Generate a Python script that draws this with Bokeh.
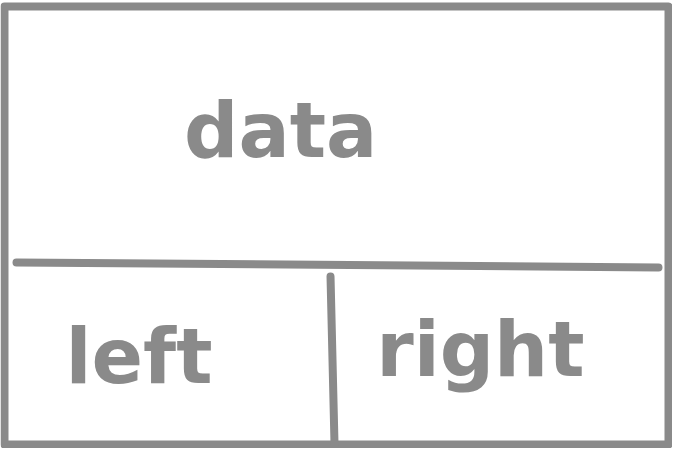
from bokeh.plotting import figure
from bokeh.models import Range1d, ColumnDataSource
from bokeh.core.properties import value
from bokeh.embed import file_html
from bokeh.resources import INLINE

# the sketch: one "data" block on top, split into "left" and "right" below
labels = ["data", "left", "right"]
rows = [0, 1, 1]
cols = [0, 0, 1]
spans = [2, 1, 1]

# layout (pixels of the figure, y grows downwards)
W, H = 672, 448
frame_l, frame_r, frame_t, frame_b = 4, 668, 6, 444
row_split = 0.589
col_split = 0.494
label_fx = [0.416, 0.41, 0.44]   # where each word sits inside its cell
label_fy = [0.48, 0.51, 0.47]
ink = "#8a8a8a"

xe = [frame_l, frame_l + col_split * (frame_r - frame_l), frame_r]
ye = [frame_t, frame_t + row_split * (frame_b - frame_t), frame_b]

cell_l = [xe[c] for c in cols]
cell_r = [xe[c + s] for c, s in zip(cols, spans)]
cell_t = [ye[r] for r in rows]
cell_b = [ye[r + 1] for r in rows]

src = ColumnDataSource(dict(
    label=labels,
    x=[l + fx * (r - l) for l, r, fx in zip(cell_l, cell_r, label_fx)],
    y=[t + fy * (b - t) for t, b, fy in zip(cell_t, cell_b, label_fy)],
))

p = figure(width=W, height=H, x_range=Range1d(0, W), y_range=Range1d(H, 0),
           output_backend="svg", toolbar_location=None, min_border=0)
p.axis.visible = False
p.grid.visible = False
p.outline_line_color = None
p.background_fill_color = "white"

# outer box
p.quad(left=[min(cell_l)], right=[max(cell_r)], top=[min(cell_t)], bottom=[max(cell_b)],
       fill_color=None, line_color=ink, line_width=8, line_join="round")

# horizontal divider between the rows (hand drawn: short of the edges, a bit tilted)
p.segment(x0=[xe[0] + 12], y0=[ye[1] - 2], x1=[xe[2] - 10], y1=[ye[1] + 3],
          line_color=ink, line_width=8, line_cap="round")

# vertical divider between left and right
p.segment(x0=[xe[1] - 2], y0=[ye[1] + 12], x1=[xe[1] + 2], y1=[ye[2]],
          line_color=ink, line_width=8, line_cap="round")

p.text(x="x", y="y", text="label", source=src, text_color=ink,
       text_font=value("DejaVu Sans"), text_font_style="bold", text_font_size="76px",
       text_align="center", text_baseline="alphabetic")

open("out.html", "w").write(file_html(p, INLINE))
